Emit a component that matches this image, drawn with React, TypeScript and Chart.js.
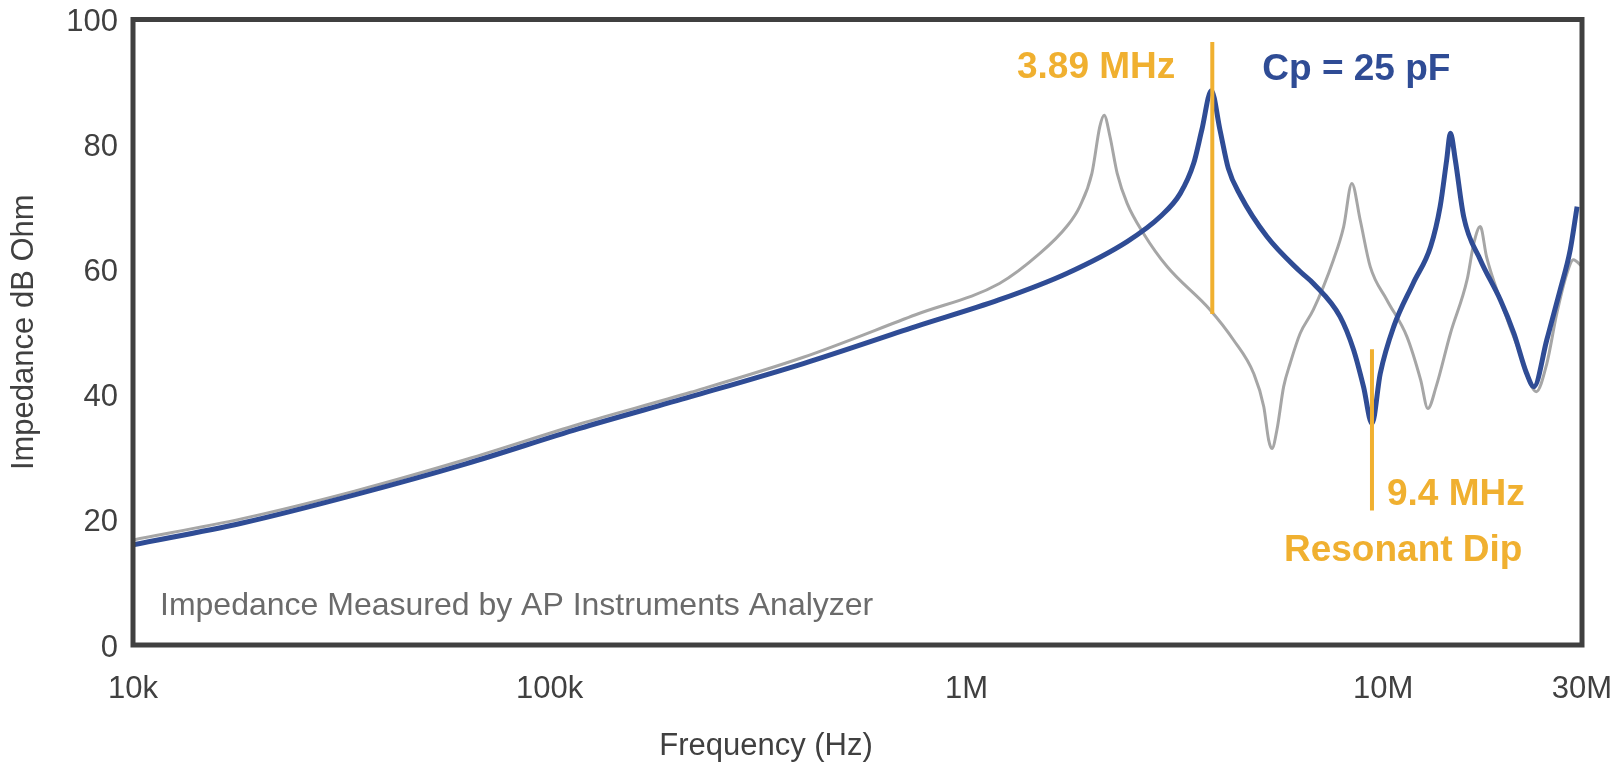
import React, { useEffect, useRef } from "react";
import { Chart, registerables } from "chart.js";

Chart.register(...registerables);

// ---- Data ----
const blueFreqHz = [
  1e4, 1.83e4, 3.4e4, 6.32e4, 1.175e5, 2.18e5, 4.06e5, 7.55e5, 1.2e6, 1.74e6,
  2.43e6, 2.92e6, 3.26e6, 3.51e6, 3.67e6, 3.87e6, 4.06e6, 4.25e6, 4.54e6, 5.26e6,
  6.32e6, 6.8e6, 7.88e6, 8.49e6, 8.97e6, 9.4e6, 9.84e6, 1.06e7, 1.18e7, 1.3e7,
  1.37e7, 1.42e7, 1.45e7, 1.49e7, 1.56e7, 1.71e7, 1.91e7, 2.06e7, 2.21e7, 2.3e7,
  2.47e7, 2.66e7, 2.81e7, 2.92e7,
];
const blueDb = [
  16.0, 19.5, 24.0, 29.0, 34.6, 39.7, 45.0, 50.9, 55.2, 59.4,
  64.5, 68.5, 72.2, 77.0, 82.3, 88.6, 82.3, 76.2, 71.9, 65.3,
  59.7, 57.8, 52.5, 47.2, 41.3, 35.4, 43.4, 50.9, 57.8, 63.7,
  70.1, 77.5, 81.8, 77.5, 68.5, 61.6, 55.2, 49.8, 43.4, 41.3,
  48.8, 56.8, 63.1, 70.1,
];

const grayFreqHz = [
  1e4, 1.83e4, 3.4e4, 6.32e4, 1.175e5, 2.18e5, 4.06e5, 7.55e5, 1.2e6, 1.5e6,
  1.74e6, 1.87e6, 2.0e6, 2.09e6, 2.14e6, 2.21e6, 2.3e6, 2.43e6, 2.66e6, 3.03e6,
  3.84e6, 4.37e6, 4.89e6, 5.17e6, 5.31e6, 5.41e6, 5.56e6, 5.77e6, 5.98e6, 6.32e6,
  6.8e6, 7.6e6, 8.04e6, 8.41e6, 8.81e6, 9.31e6, 1.02e7, 1.14e7, 1.23e7, 1.28e7,
  1.34e7, 1.45e7, 1.59e7, 1.65e7, 1.71e7, 1.77e7, 1.91e7, 2.13e7, 2.33e7, 2.47e7,
  2.61e7, 2.76e7, 2.86e7, 3.0e7,
];
const grayDb = [
  16.8, 20.2, 24.6, 29.7, 35.3, 40.4, 46.0, 52.8, 57.8, 62.6,
  66.9, 70.1, 75.4, 82.9, 84.7, 81.3, 75.4, 70.6, 65.8, 60.5,
  53.6, 48.8, 43.4, 38.1, 32.8, 31.4, 34.4, 41.3, 45.0, 49.8,
  53.6, 61.6, 66.9, 73.8, 67.9, 60.5, 55.2, 49.3, 42.4, 37.8,
  41.3, 49.8, 58.4, 64.2, 66.9, 62.1, 55.2, 46.6, 40.5, 45.0,
  53.0, 59.4, 61.6, 60.5,
];

const xTickValues = [1e4, 1e5, 1e6, 1e7, 3e7];
const xTickLabels = ["10k", "100k", "1M", "10M", "30M"];
const yTickValues = [0, 20, 40, 60, 80, 100];

const markerFreqHz = [3.89e6, 9.4e6];
const markerTopDb = [96.4, 47.3];
const markerBottomDb = [52.9, 21.5];

const xTitle = "Frequency (Hz)";
const yTitle = "Impedance dB Ohm";
const noteText = "Impedance Measured by AP Instruments Analyzer";

const BLUE = "#2F4C95";
const GRAY = "#A6A6A6";
const ORANGE = "#F0B030";
const DARK = "#404040";
const FONT = '"Liberation Sans", Arial, Helvetica, sans-serif';

const W = 1619;
const H = 768;

const overlayPlugin = {
  id: "overlay",
  afterDatasetsDraw(chart: any) {
    const { ctx, chartArea, scales } = chart;
    const xs = scales.x;
    const ys = scales.y;
    ctx.save();

    // orange marker lines
    ctx.strokeStyle = ORANGE;
    ctx.lineWidth = 4;
    markerFreqHz.forEach((f, i) => {
      const px = xs.getPixelForValue(f);
      ctx.beginPath();
      ctx.moveTo(px, ys.getPixelForValue(markerTopDb[i]));
      ctx.lineTo(px, ys.getPixelForValue(markerBottomDb[i]));
      ctx.stroke();
    });

    // frame
    ctx.strokeStyle = DARK;
    ctx.lineWidth = 5;
    ctx.strokeRect(
      chartArea.left,
      chartArea.top,
      chartArea.right - chartArea.left,
      chartArea.bottom - chartArea.top
    );

    // annotations
    ctx.textBaseline = "alphabetic";
    ctx.font = `bold 37px ${FONT}`;
    ctx.fillStyle = ORANGE;
    ctx.textAlign = "right";
    ctx.fillText("3.89 MHz", xs.getPixelForValue(markerFreqHz[0]) - 37, ys.getPixelForValue(90.6));
    ctx.textAlign = "left";
    ctx.fillText("9.4 MHz", xs.getPixelForValue(markerFreqHz[1]) + 15, ys.getPixelForValue(22.4));
    ctx.fillText("Resonant Dip", xs.getPixelForValue(markerFreqHz[1]) - 88, ys.getPixelForValue(13.4));
    ctx.fillStyle = BLUE;
    ctx.fillText("Cp = 25 pF", xs.getPixelForValue(markerFreqHz[0]) + 50, ys.getPixelForValue(90.3));

    ctx.font = `32px ${FONT}`;
    ctx.fillStyle = "#6B6B6B";
    ctx.fillText(noteText, chartArea.left + 27, ys.getPixelForValue(4.8));

    // axis titles
    ctx.font = `31px ${FONT}`;
    ctx.fillStyle = DARK;
    ctx.textAlign = "center";
    ctx.fillText(xTitle, 766, 755);
    ctx.save();
    ctx.translate(33, (chartArea.top + chartArea.bottom) / 2);
    ctx.rotate(-Math.PI / 2);
    ctx.fillText(yTitle, 0, 0);
    ctx.restore();

    ctx.restore();
  },
};

export default function App() {
  const canvasRef = useRef<HTMLCanvasElement | null>(null);

  useEffect(() => {
    const canvas = canvasRef.current;
    if (!canvas) return;
    const chart = new Chart(canvas, {
      type: "line",
      data: {
        datasets: [
          {
            label: "Cp = 25 pF",
            data: blueFreqHz.map((f, i) => ({ x: f, y: blueDb[i] })),
            borderColor: BLUE,
            borderWidth: 5,
            pointRadius: 0,
            cubicInterpolationMode: "monotone",
            order: 1,
          },
          {
            label: "Reference",
            data: grayFreqHz.map((f, i) => ({ x: f, y: grayDb[i] })),
            borderColor: GRAY,
            borderWidth: 3,
            pointRadius: 0,
            cubicInterpolationMode: "monotone",
            order: 2,
          },
        ],
      },
      options: {
        animation: false,
        responsive: false,
        devicePixelRatio: 1,
        layout: { padding: { left: 0, top: 19.5, right: 37, bottom: 0 } },
        plugins: {
          legend: { display: false },
          tooltip: { enabled: false },
        },
        scales: {
          x: {
            type: "logarithmic",
            min: 1e4,
            max: 3e7,
            grid: { display: false, drawTicks: false },
            border: { display: false },
            afterBuildTicks: (scale: any) => {
              scale.ticks = xTickValues.map((v) => ({ value: v }));
            },
            afterFit: (scale: any) => {
              scale.height = H - 645;
              scale.paddingLeft = 0;
              scale.paddingRight = 0;
              scale.paddingTop = 0;
              scale.paddingBottom = 0;
            },
            ticks: {
              autoSkip: false,
              maxRotation: 0,
              padding: 26,
              color: DARK,
              font: { family: FONT, size: 31 },
              callback: (v: any) => {
                const i = xTickValues.indexOf(Number(v));
                return i >= 0 ? xTickLabels[i] : "";
              },
            },
          },
          y: {
            type: "linear",
            min: 0,
            max: 100,
            grid: { display: false, drawTicks: false },
            border: { display: false },
            afterBuildTicks: (scale: any) => {
              scale.ticks = yTickValues.map((v) => ({ value: v }));
            },
            afterFit: (scale: any) => {
              scale.width = 133;
              scale.paddingLeft = 0;
              scale.paddingRight = 0;
              scale.paddingTop = 0;
              scale.paddingBottom = 0;
            },
            ticks: {
              padding: 15,
              labelOffset: 3,
              color: DARK,
              font: { family: FONT, size: 31 },
            },
          },
        },
      },
      plugins: [overlayPlugin],
    });
    return () => chart.destroy();
  }, []);

  return (
    <div style={{ position: "absolute", left: 0, top: 0, width: W, height: H, background: "#fff" }}>
      <canvas ref={canvasRef} width={W} height={H} style={{ display: "block", width: W, height: H }} />
    </div>
  );
}
